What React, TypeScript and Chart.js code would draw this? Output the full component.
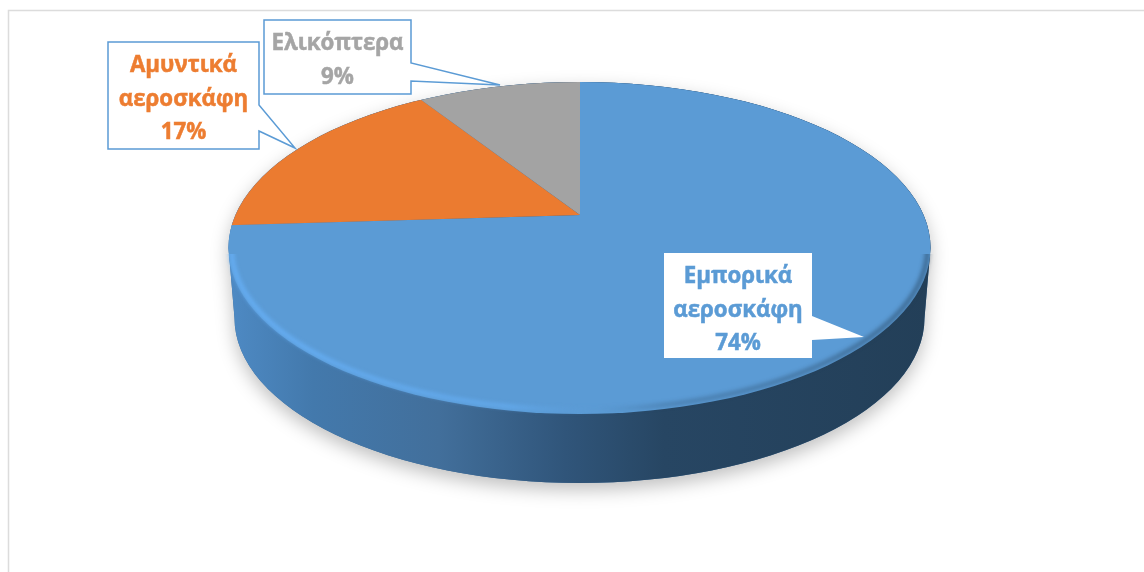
import React, { useEffect, useRef } from "react";
import { Chart, registerables } from "chart.js";

Chart.register(...registerables);

const categories = ["Εμπορικά αεροσκάφη", "Αμυντικά αεροσκάφη", "Ελικόπτερα"];
const shares = [74, 17, 9];
const sliceColors = ["#5b9bd5", "#eb7b30", "#a3a3a3"];
const labelColors = ["#5b9bd5", "#ed7d31", "#a5a5a5"];

const W = 1144;
const H = 572;
const FONT = 'bold 22.3px "Open Sans", "Noto Sans", sans-serif';

const top = { cx: 579.5, cy: 248, rx: 351, ry: 166 };
const bottom = { cx: 579.5, cy: 318, rx: 345, ry: 165 };
const apex = { x: 580, y: 215 };
const squash = 0.46;
const enlarge = 1.75;

const callouts = [
  { box: [664, 253, 812, 358], tail: [[812, 316], [864, 337], [812, 340]], stroke: null, lines: [283, 317, 350], tx: 738 },
  { box: [108, 42, 259, 149], tail: [[259, 105], [295, 148], [259, 131]], stroke: "#5b9bd5", lines: [72, 106, 139], tx: 183.5 },
  { box: [264, 20, 411, 94], tail: [[411, 63], [500, 85], [411, 81]], stroke: "#5b9bd5", lines: [50, 84], tx: 337.5 },
];

function ellipsePath(ctx: CanvasRenderingContext2D, e: typeof top) {
  ctx.beginPath();
  ctx.ellipse(e.cx, e.cy, e.rx, e.ry, 0, 0, Math.PI * 2);
}

function bodyPath(ctx: CanvasRenderingContext2D) {
  ctx.beginPath();
  ctx.ellipse(top.cx, top.cy, top.rx, top.ry, 0, Math.PI, 0);
  ctx.lineTo(bottom.cx + bottom.rx, bottom.cy);
  ctx.ellipse(bottom.cx, bottom.cy, bottom.rx, bottom.ry, 0, 0, Math.PI);
  ctx.closePath();
}

const pie3d = {
  id: "pie3d",
  beforeDatasetsDraw(chart: any) {
    const ctx: CanvasRenderingContext2D = chart.ctx;
    ctx.save();
    ctx.shadowColor = "rgba(0,0,0,0.25)";
    ctx.shadowBlur = 18;
    ctx.shadowOffsetY = 7;
    ctx.fillStyle = "#3a6a98";
    bodyPath(ctx);
    ctx.fill();
    ctx.restore();

    ctx.save();
    const g = ctx.createLinearGradient(top.cx - top.rx, 0, top.cx + top.rx, 0);
    g.addColorStop(0, "#4e8ac4");
    g.addColorStop(0.12, "#4379ac");
    g.addColorStop(0.3, "#426f9b");
    g.addColorStop(0.48, "#30557a");
    g.addColorStop(0.62, "#274663");
    g.addColorStop(1, "#233f58");
    ctx.fillStyle = g;
    bodyPath(ctx);
    ctx.fill();
    ctx.restore();

    const c = chart.getDatasetMeta(0).data[0];
    ctx.save();
    ellipsePath(ctx, top);
    ctx.clip();
    ctx.translate(apex.x, apex.y);
    ctx.scale(enlarge, enlarge * squash);
    ctx.translate(-c.x, -c.y);
  },
  afterDatasetsDraw(chart: any) {
    const ctx: CanvasRenderingContext2D = chart.ctx;
    ctx.restore();

    // rim of the top face, lower half only
    ctx.save();
    ctx.beginPath();
    ctx.rect(0, top.cy + 6, W, H);
    ctx.clip();
    const rim = ctx.createLinearGradient(top.cx - top.rx, 0, top.cx + top.rx, 0);
    rim.addColorStop(0, "rgba(104,178,250,0.95)");
    rim.addColorStop(0.4, "rgba(104,178,250,0.7)");
    rim.addColorStop(0.52, "rgba(91,155,213,0.15)");
    rim.addColorStop(0.62, "rgba(34,61,86,0.3)");
    rim.addColorStop(1, "rgba(34,61,86,0.6)");
    ctx.strokeStyle = rim;
    ctx.lineWidth = 4;
    ctx.filter = "blur(2px)";
    ctx.beginPath();
    ctx.ellipse(top.cx, top.cy, top.rx - 3, top.ry - 4, 0, 0, Math.PI);
    ctx.stroke();
    ctx.restore();

    // callouts
    ctx.save();
    categories.forEach((name, i) => {
      const co = callouts[i];
      const [x0, y0, x1, y1] = co.box;
      const [a, tip, b] = co.tail;
      ctx.beginPath();
      ctx.moveTo(x0, y0);
      ctx.lineTo(x1, y0);
      ctx.lineTo(a[0], a[1]);
      ctx.lineTo(tip[0], tip[1]);
      ctx.lineTo(b[0], b[1]);
      ctx.lineTo(x1, y1);
      ctx.lineTo(x0, y1);
      ctx.closePath();
      ctx.fillStyle = "#ffffff";
      ctx.fill();
      if (co.stroke) {
        ctx.strokeStyle = co.stroke;
        ctx.lineWidth = 1.5;
        ctx.stroke();
      }
      const words = co.lines.length === 3 ? name.split(" ") : [name];
      const rows = [...words, `${shares[i]}%`];
      ctx.fillStyle = labelColors[i];
      ctx.strokeStyle = labelColors[i];
      ctx.lineWidth = 0.5;
      ctx.font = FONT;
      ctx.textAlign = "center";
      ctx.textBaseline = "alphabetic";
      rows.forEach((row, j) => {
        ctx.fillText(row, co.tx, co.lines[j]);
        ctx.strokeText(row, co.tx, co.lines[j]);
      });
    });
    ctx.restore();
  },
};

const frame = {
  id: "frame",
  beforeDraw(chart: any) {
    const ctx: CanvasRenderingContext2D = chart.ctx;
    ctx.save();
    ctx.fillStyle = "#ffffff";
    ctx.fillRect(0, 0, W, H);
    ctx.strokeStyle = "#dcdcdc";
    ctx.lineWidth = 1.5;
    ctx.beginPath();
    ctx.moveTo(W, 10.5);
    ctx.lineTo(8.5, 10.5);
    ctx.lineTo(8.5, H);
    ctx.stroke();
    ctx.restore();
  },
};

export default function App() {
  const ref = useRef<HTMLCanvasElement>(null);
  useEffect(() => {
    const chart = new Chart(ref.current!, {
      type: "pie",
      data: {
        labels: categories,
        datasets: [{ data: shares, backgroundColor: sliceColors, borderWidth: 0, clip: false } as any],
      },
      options: {
        responsive: false,
        animation: false,
        layout: { padding: 0 },
        plugins: { legend: { display: false }, tooltip: { enabled: false } },
      },
      plugins: [frame, pie3d],
    });
    return () => chart.destroy();
  }, []);
  return (
    <canvas
      ref={ref}
      width={W}
      height={H}
      style={{ position: "fixed", left: 0, top: 0, width: W, height: H, display: "block" }}
    />
  );
}
